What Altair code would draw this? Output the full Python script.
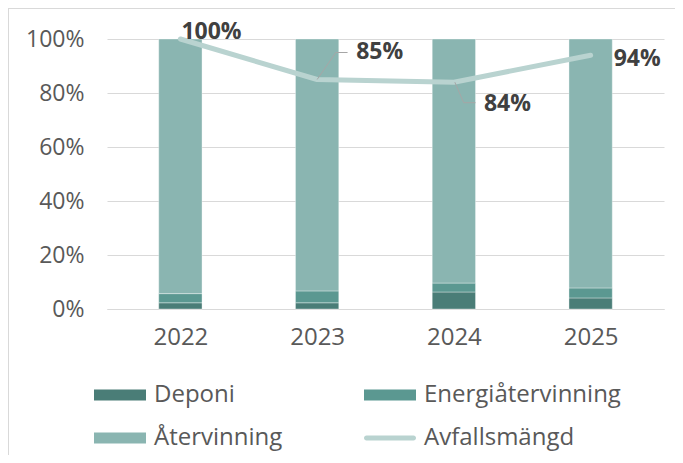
import altair as alt
import pandas as pd

years = ["2022", "2023", "2024", "2025"]
deponi = [0.023, 0.023, 0.063, 0.041]
energi = [0.034, 0.044, 0.033, 0.037]
atervinning = [0.943, 0.933, 0.904, 0.922]
avfallsmangd = [1.00, 0.85, 0.84, 0.94]
series = ["Deponi", "Energiåtervinning", "Återvinning", "Avfallsmängd"]
colors = ["#4a7d77", "#5b9891", "#8ab5b1", "#b9d3d0"]

W, H = 557, 270
STEP = W / len(years)

rows = []
for i, yr in enumerate(years):
    for k, (name, vals) in enumerate(zip(series[:3], [deponi, energi, atervinning])):
        rows.append({"idx": i, "year": yr, "serie": name, "value": vals[i], "ord": k})
bars_df = pd.DataFrame(rows)
line_df = pd.DataFrame({"idx": list(range(len(years))), "year": years,
                        "value": avfallsmangd, "serie": "Avfallsmängd"})
legend_df = pd.DataFrame({"serie": series})

# leader lines: pixel offsets from the data point (style), converted through scales
leader_offsets = {1: [(0, 0), (19, -27), (31, -27)], 2: [(1, 0), (10, 20.5), (22, 20.5)]}
lead_rows = []
for i, pts in leader_offsets.items():
    for s, (px, py) in enumerate(pts):
        lead_rows.append({"lead": i, "seq": s,
                          "lx": i + px / STEP, "ly": avfallsmangd[i] - py / H})
lead_df = pd.DataFrame(lead_rows)

FONT = "Open Sans"
GRID = "#d9d9d9"
TXT = "#595959"

RECT = "M-1,-0.423H3V0.423H-1Z"
LINE = "M-0.81,-0.19H2.81A0.19,0.19 0 0 1 2.81,0.19H-0.81A0.19,0.19 0 0 1 -0.81,-0.19Z"

legend = alt.Legend(
    title=None, orient="none", legendX=-13, legendY=343, columns=2, direction="horizontal",
    columnPadding=80, rowPadding=18, padding=0, labelLimit=400,
    labelFont=FONT, labelFontSize=24, labelColor=TXT, labelOffset=34,
    symbolSize=676, symbolStrokeWidth=0, symbolOpacity=1,
)
color = alt.Color("serie:N", scale=alt.Scale(domain=series, range=colors), legend=legend)
shape = alt.Shape("serie:N", scale=alt.Scale(domain=series, range=[RECT, RECT, RECT, LINE]), legend=legend)

label_expr = "[" + ",".join(f"'{y}'" for y in years) + "][datum.value]"
xscale = alt.Scale(domain=[-0.5, len(years) - 0.5], nice=False, zero=False)
x = alt.X(
    "idx:Q", title=None, scale=xscale,
    axis=alt.Axis(values=list(range(len(years))), labelExpr=label_expr,
                  labelFont=FONT, labelFontSize=24, labelColor=TXT,
                  labelPadding=16, ticks=False, tickSize=0, domainColor=GRID, domainWidth=1,
                  grid=False, labelFlush=False, labelOverlap=False),
)
y = alt.Y(
    "value:Q", title=None, stack="zero",
    scale=alt.Scale(domain=[0, 1], nice=False),
    axis=alt.Axis(format=".0%", values=[0, 0.2, 0.4, 0.6, 0.8, 1.0], labelFont=FONT,
                  labelFontSize=23, labelColor=TXT, labelPadding=23, ticks=False, tickSize=0,
                  domain=False, gridColor=GRID, gridWidth=1),
)

frame = alt.Chart(legend_df).mark_rect(fill=None, stroke=GRID, strokeWidth=1, clip=False).encode(
    x=alt.value(-98.5), y=alt.value(-30.5), x2=alt.value(700), y2=alt.value(700)
)

bars = alt.Chart(bars_df).mark_bar(width=STEP * 0.311, stroke="white", strokeWidth=0.6,
                                   strokeOpacity=0.6).encode(
    x=x, y=y, color=color, order=alt.Order("ord:Q", sort="ascending")
)

line = alt.Chart(line_df).mark_line(strokeWidth=5, strokeCap="round", strokeJoin="round").encode(
    x="idx:Q", y="value:Q", color=color
)

legend_pts = alt.Chart(legend_df).mark_point(filled=True, opacity=0, size=0).encode(
    color=color, shape=shape
)

leaders = alt.Chart(lead_df).mark_line(color="#a6a6a6", strokeWidth=1).encode(
    x="lx:Q", y="ly:Q", detail="lead:N", order="seq:Q"
)

base_l = alt.Chart(line_df)

def label(yr, dx, dy, baseline="middle"):
    return base_l.transform_filter(alt.datum.year == yr).mark_text(
        font=FONT, fontSize=23, fontWeight="bold", color="#404040",
        align="left", baseline=baseline, dx=dx, dy=dy
    ).encode(x="idx:Q", y="value:Q", text=alt.Text("value:Q", format=".0%"))

labels = [
    label("2022", 1, 0, "alphabetic"),
    label("2023", 39, -27.5),
    label("2024", 30, 22),
    label("2025", 23, 3.5),
]

chart = alt.layer(frame, bars, line, legend_pts, leaders, *labels).properties(
    width=W, height=H,
    padding={"left": 99, "top": 31, "right": 11, "bottom": 146},
    autosize="none",
).configure_view(stroke=None)

chart.save("out.html", embed_options={"renderer": "svg", "actions": False})
